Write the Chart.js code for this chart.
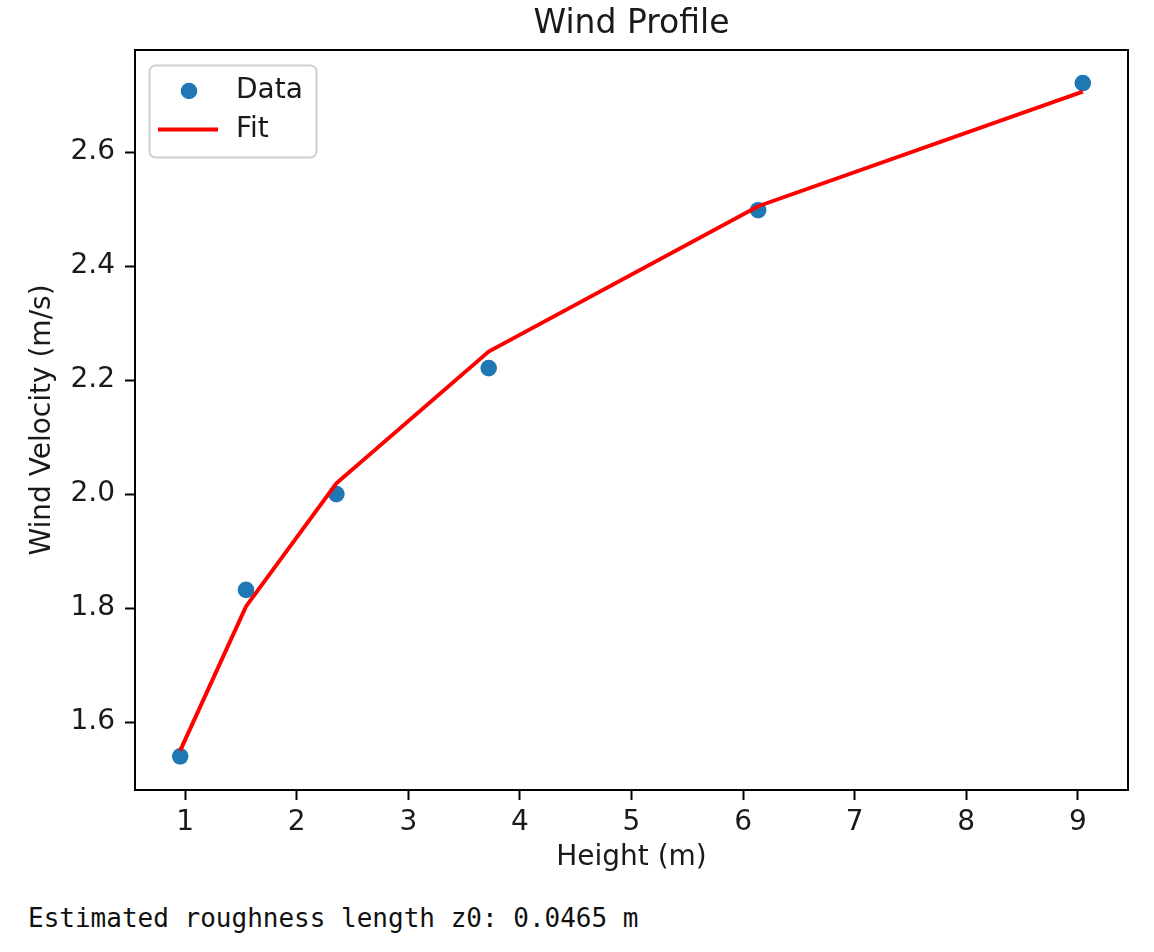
<!DOCTYPE html>
<html>
<head>
<meta charset="utf-8">
<script src="https://cdn.jsdelivr.net/npm/chart.js@4.4.1/dist/chart.umd.min.js"></script>
<style>
  body { margin: 0; background: #fff; }
  #wrap { position: relative; width: 1154px; height: 880px; }
  #note {
    position: absolute; left: 28px; top: 905px;
    font-family: "DejaVu Sans Mono", monospace; font-size: 26px; line-height: 26px;
    color: #111; white-space: pre;
  }
</style>
</head>
<body>
<div id="wrap"><canvas id="wind-chart"></canvas></div>
<div id="note">Estimated roughness length z0: 0.0465 m</div>
<script>
// Measured data (height in m, velocity in m/s)
const heights = [0.955, 1.545, 2.355, 3.72, 6.135, 9.045];
const velocities = [1.540, 1.832, 2.000, 2.221, 2.498, 2.721];

// Log-law fit evaluated at the same heights
const fitValues = [1.550, 1.803, 2.019, 2.250, 2.505, 2.706];

const xTicks = [1, 2, 3, 4, 5, 6, 7, 8, 9];
const yTicks = [1.6, 1.8, 2.0, 2.2, 2.4, 2.6];

const FONT = 'DejaVu Sans';
const TEXT = '#1a1a1a';

// Title centred over the plot area, full frame and an inner legend like matplotlib
const framePlugin = {
  id: 'frame',
  afterDraw(chart) {
    const { ctx, chartArea: a } = chart;
    ctx.save();
    ctx.strokeStyle = '#000';
    ctx.lineWidth = 2;
    ctx.strokeRect(a.left, a.top, a.right - a.left, a.bottom - a.top);

    ctx.fillStyle = TEXT;
    ctx.font = `33px "${FONT}"`;
    ctx.textAlign = 'center';
    ctx.textBaseline = 'alphabetic';
    ctx.fillText('Wind Profile', (a.left + a.right) / 2, 33);

    // legend
    const lx = a.left + 14, ly = a.top + 15;
    ctx.beginPath();
    ctx.roundRect(lx + 0.5, ly + 0.5, 167, 92, 6);
    ctx.fillStyle = 'rgba(255,255,255,0.8)';
    ctx.fill();
    ctx.strokeStyle = '#d0d0d0';
    ctx.lineWidth = 2;
    ctx.stroke();

    const ds = chart.data.datasets;
    const data = ds.find(d => d.label === 'Data');
    const fit = ds.find(d => d.label === 'Fit');
    ctx.beginPath();
    ctx.arc(lx + 40, ly + 26, 8.3, 0, Math.PI * 2);
    ctx.fillStyle = data.backgroundColor;
    ctx.fill();

    ctx.beginPath();
    ctx.moveTo(lx + 9, ly + 64.5);
    ctx.lineTo(lx + 69, ly + 64.5);
    ctx.strokeStyle = fit.borderColor;
    ctx.lineWidth = 4;
    ctx.stroke();

    ctx.fillStyle = TEXT;
    ctx.font = `28px "${FONT}"`;
    ctx.textAlign = 'left';
    ctx.textBaseline = 'middle';
    ctx.fillText('Data', lx + 87, ly + 26);
    ctx.fillText('Fit', lx + 87, ly + 65);
    ctx.restore();
  }
};

function createWindChart() {
  const ctx = document.getElementById('wind-chart').getContext('2d');
  return new Chart(ctx, {
    type: 'scatter',
    data: {
      datasets: [{
        label: 'Fit',
        data: heights.map((h, i) => ({ x: h, y: fitValues[i] })),
        showLine: true,
        borderColor: '#ff0000',
        borderWidth: 4,
        pointRadius: 0,
        tension: 0,
        order: 0
      }, {
        label: 'Data',
        data: heights.map((h, i) => ({ x: h, y: velocities[i] })),
        backgroundColor: '#1f77b4',
        borderWidth: 0,
        pointRadius: 8.3,
        pointHoverRadius: 8.3,
        order: 1
      }]
    },
    options: {
      responsive: true,
      maintainAspectRatio: false,
      animation: false,
      events: [],
      layout: { padding: { top: 50, right: 26, left: 0, bottom: 0 } },
      plugins: {
        legend: { display: false },
        tooltip: { enabled: false }
      },
      scales: {
        x: {
          type: 'linear',
          min: 0.55,
          max: 9.45,
          afterFit: s => { s.height = 90; },
          afterBuildTicks: s => { s.ticks = xTicks.map(v => ({ value: v })); },
          ticks: {
            color: TEXT,
            font: { family: FONT, size: 28 },
            padding: 6,
            maxRotation: 0,
            callback: v => String(v)
          },
          grid: { drawOnChartArea: false, tickLength: 10, tickWidth: 2, tickColor: '#000' },
          border: { display: true, color: '#000', width: 2 },
          title: {
            display: true,
            text: 'Height (m)',
            color: TEXT,
            font: { family: FONT, size: 28 },
            padding: { top: 0, bottom: 5 }
          }
        },
        y: {
          type: 'linear',
          min: 1.481,
          max: 2.779,
          afterFit: s => { s.width = 135; },
          afterBuildTicks: s => { s.ticks = yTicks.map(v => ({ value: v })); },
          ticks: {
            color: TEXT,
            font: { family: FONT, size: 28 },
            padding: 10,
            callback: v => v.toFixed(1)
          },
          grid: { drawOnChartArea: false, tickLength: 10, tickWidth: 2, tickColor: '#000' },
          border: { display: true, color: '#000', width: 2 },
          title: {
            display: true,
            text: 'Wind Velocity (m/s)',
            color: TEXT,
            font: { family: FONT, size: 28 },
            padding: { top: 26, bottom: 0 }
          }
        }
      }
    },
    plugins: [framePlugin]
  });
}

createWindChart();
</script>
</body>
</html>
